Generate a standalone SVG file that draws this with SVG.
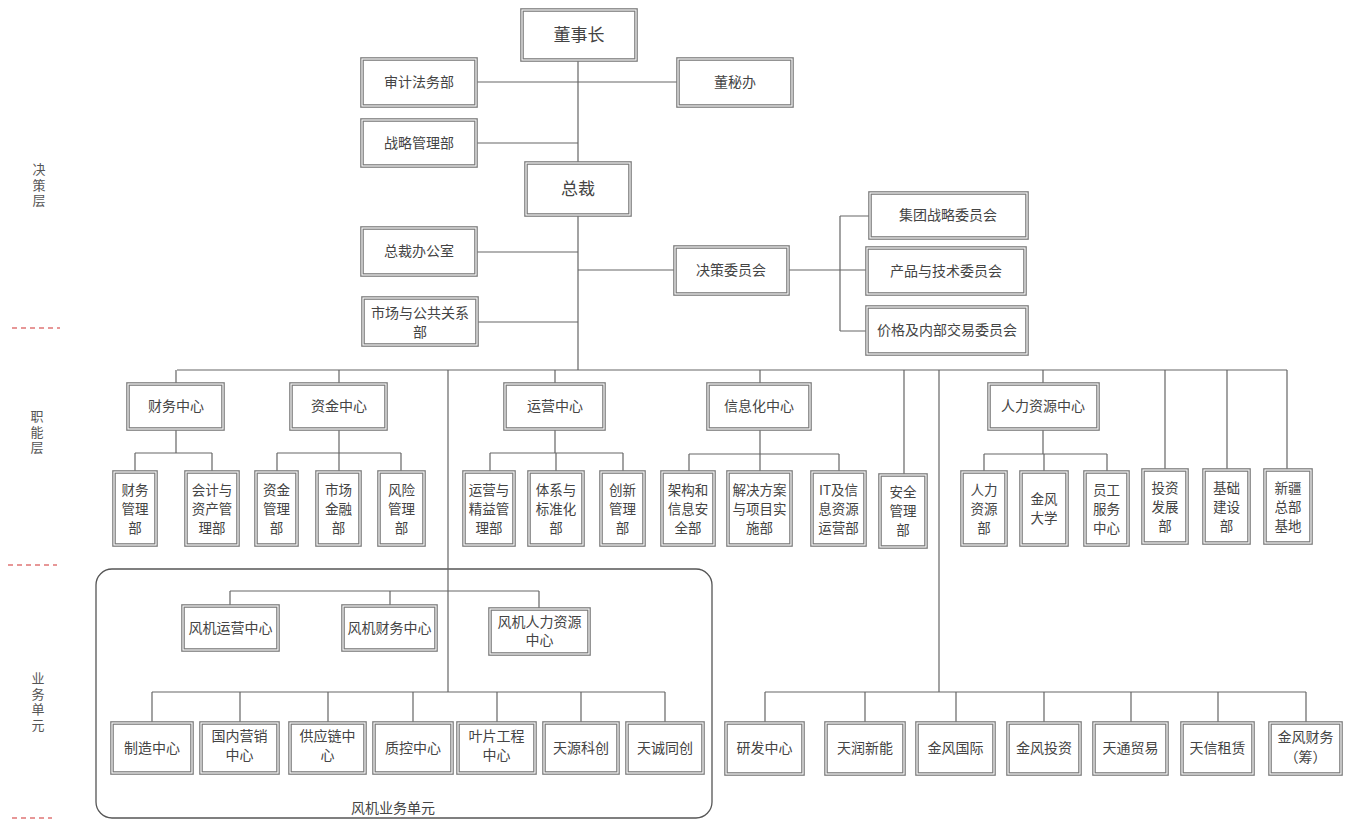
<svg xmlns="http://www.w3.org/2000/svg" width="1352" height="820" viewBox="0 0 1352 820">
<style>
text{font-family:"Noto Sans CJK SC","Noto Sans",sans-serif;fill:#444;font-size:14px;text-anchor:middle}
.big{font-size:17px}
.sm{font-size:13.5px}
.lay{font-size:13px;fill:#555;writing-mode:vertical-rl;text-anchor:start;letter-spacing:2.5px}
.b{fill:#fff;stroke:#7a7a7a;stroke-width:3.6}
.w{fill:none;stroke:#fff;stroke-width:1.1}
.c{fill:none;stroke:#666;stroke-width:1.2}
.dash{stroke:#e07575;stroke-width:1.3;stroke-dasharray:5 4}
.ur{fill:none;stroke:#555;stroke-width:1.3}
</style>
<rect width="1352" height="820" fill="#fff"/>
<g id="layers">
<text class="lay" x="39" y="163">决策层</text>
<text class="lay" x="37" y="410">职能层</text>
<text class="lay" x="38" y="672">业务单元</text>
<line class="dash" x1="12" y1="328" x2="60" y2="328"/>
<line class="dash" x1="8" y1="565" x2="57" y2="565"/>
<line class="dash" x1="12" y1="818" x2="52" y2="818"/>
</g>
<g id="unit-frame">
<rect class="ur" x="96" y="569" width="616" height="249" rx="16"/>
<text x="393" y="813">风机业务单元</text>
</g>
<g id="connectors" class="c">
<path d="M578 60V163M578 215V370"/>
<path d="M476 82H678M476 143H578M476 252H578M578 270H675M477 322H578"/>
<path d="M788 270H840M840 216V331M840 216H870M840 270H867M840 331H867"/>
<path d="M177 370H1287"/>
<path d="M176 370V384M339 370V384M555 370V384M760 370V384M1043 370V384M904 370V475M1165 370V470M1227 370V470M1287 370V470"/>
<path d="M448 370V692M939 370V692"/>
<path d="M176 429V453M135 453H212M135 453V472M212 453V472"/>
<path d="M339 429V453M277 453H401M277 453V472M339 453V472M401 453V472"/>
<path d="M555 429V453M490 453H623M490 453V472M556 453V472M623 453V472"/>
<path d="M760 429V454M689 454H839M689 454V472M760 454V472M839 454V472"/>
<path d="M1043 429V454M984 454H1107M984 454V472M1044 454V472M1107 454V472"/>
<path d="M230 591H539M230 591V606M390 591V606M539 591V609"/>
<path d="M152 692H665M152 692V723M240 692V723M328 692V723M413 692V723M497 692V723M581 692V723M665 692V723"/>
<path d="M765 692H1306M765 692V723M865 692V723M956 692V723M1044 692V723M1131 692V723M1218 692V723M1306 692V723"/>
</g>
<g id="n-dongshizhang"><rect class="b" x="522" y="10" width="114" height="50"/><rect class="w" x="522" y="10" width="114" height="50"/><text class="big" x="579" y="41">董事长</text></g>
<g id="n-shenji"><rect class="b" x="362" y="59" width="114" height="47"/><rect class="w" x="362" y="59" width="114" height="47"/><text x="419" y="87">审计法务部</text></g>
<g id="n-dongmi"><rect class="b" x="678" y="59" width="114" height="47"/><rect class="w" x="678" y="59" width="114" height="47"/><text x="735" y="87">董秘办</text></g>
<g id="n-zhanlue"><rect class="b" x="362" y="120" width="114" height="46"/><rect class="w" x="362" y="120" width="114" height="46"/><text x="419" y="148">战略管理部</text></g>
<g id="n-zongcai"><rect class="b" x="526" y="163" width="104" height="52"/><rect class="w" x="526" y="163" width="104" height="52"/><text class="big" x="578" y="195">总裁</text></g>
<g id="n-zongcaiban"><rect class="b" x="362" y="228" width="114" height="47"/><rect class="w" x="362" y="228" width="114" height="47"/><text x="419" y="256">总裁办公室</text></g>
<g id="n-shichang"><rect class="b" x="363" y="298" width="114" height="47"/><rect class="w" x="363" y="298" width="114" height="47"/><text x="420" y="318">市场与公共关系</text><text x="420" y="337">部</text></g>
<g id="n-juece"><rect class="b" x="675" y="247" width="113" height="47"/><rect class="w" x="675" y="247" width="113" height="47"/><text x="731" y="275">决策委员会</text></g>
<g id="n-jituan"><rect class="b" x="870" y="193" width="157" height="45"/><rect class="w" x="870" y="193" width="157" height="45"/><text x="948" y="220">集团战略委员会</text></g>
<g id="n-chanpin"><rect class="b" x="867" y="248" width="158" height="46"/><rect class="w" x="867" y="248" width="158" height="46"/><text x="946" y="276">产品与技术委员会</text></g>
<g id="n-jiage"><rect class="b" x="867" y="307" width="160" height="47"/><rect class="w" x="867" y="307" width="160" height="47"/><text x="947" y="335">价格及内部交易委员会</text></g>

<g id="n-caiwuzx"><rect class="b" x="128" y="384" width="95" height="45"/><rect class="w" x="128" y="384" width="95" height="45"/><text x="176" y="411">财务中心</text></g>
<g id="n-zijinzx"><rect class="b" x="291" y="384" width="95" height="45"/><rect class="w" x="291" y="384" width="95" height="45"/><text x="339" y="411">资金中心</text></g>
<g id="n-yunyingzx"><rect class="b" x="505" y="384" width="99" height="45"/><rect class="w" x="505" y="384" width="99" height="45"/><text x="555" y="411">运营中心</text></g>
<g id="n-xinxizx"><rect class="b" x="708" y="384" width="102" height="45"/><rect class="w" x="708" y="384" width="102" height="45"/><text x="759" y="411">信息化中心</text></g>
<g id="n-renlizx"><rect class="b" x="989" y="384" width="109" height="45"/><rect class="w" x="989" y="384" width="109" height="45"/><text x="1043" y="411">人力资源中心</text></g>

<g id="n-cwgl"><rect class="b" x="114" y="472" width="42" height="73"/><rect class="w" x="114" y="472" width="42" height="73"/><text class="sm" x="135" y="495">财务</text><text class="sm" x="135" y="514">管理</text><text class="sm" x="135" y="533">部</text></g>
<g id="n-kjzc"><rect class="b" x="186" y="472" width="52" height="73"/><rect class="w" x="186" y="472" width="52" height="73"/><text class="sm" x="212" y="495">会计与</text><text class="sm" x="212" y="514">资产管</text><text class="sm" x="212" y="533">理部</text></g>
<g id="n-zjgl"><rect class="b" x="256" y="472" width="41" height="73"/><rect class="w" x="256" y="472" width="41" height="73"/><text class="sm" x="276.5" y="495">资金</text><text class="sm" x="276.5" y="514">管理</text><text class="sm" x="276.5" y="533">部</text></g>
<g id="n-scjr"><rect class="b" x="317" y="472" width="43" height="73"/><rect class="w" x="317" y="472" width="43" height="73"/><text class="sm" x="338.5" y="495">市场</text><text class="sm" x="338.5" y="514">金融</text><text class="sm" x="338.5" y="533">部</text></g>
<g id="n-fxgl"><rect class="b" x="379" y="472" width="45" height="73"/><rect class="w" x="379" y="472" width="45" height="73"/><text class="sm" x="401.5" y="495">风险</text><text class="sm" x="401.5" y="514">管理</text><text class="sm" x="401.5" y="533">部</text></g>
<g id="n-yyjy"><rect class="b" x="464" y="472" width="50" height="73"/><rect class="w" x="464" y="472" width="50" height="73"/><text class="sm" x="489" y="495">运营与</text><text class="sm" x="489" y="514">精益管</text><text class="sm" x="489" y="533">理部</text></g>
<g id="n-txbz"><rect class="b" x="529" y="472" width="54" height="73"/><rect class="w" x="529" y="472" width="54" height="73"/><text class="sm" x="556" y="495">体系与</text><text class="sm" x="556" y="514">标准化</text><text class="sm" x="556" y="533">部</text></g>
<g id="n-cxgl"><rect class="b" x="601" y="472" width="43" height="73"/><rect class="w" x="601" y="472" width="43" height="73"/><text class="sm" x="622.5" y="495">创新</text><text class="sm" x="622.5" y="514">管理</text><text class="sm" x="622.5" y="533">部</text></g>
<g id="n-jgxx"><rect class="b" x="662" y="472" width="52" height="73"/><rect class="w" x="662" y="472" width="52" height="73"/><text class="sm" x="688" y="495">架构和</text><text class="sm" x="688" y="514">信息安</text><text class="sm" x="688" y="533">全部</text></g>
<g id="n-jjfa"><rect class="b" x="728" y="472" width="63" height="73"/><rect class="w" x="728" y="472" width="63" height="73"/><text class="sm" x="759.5" y="495">解决方案</text><text class="sm" x="759.5" y="514">与项目实</text><text class="sm" x="759.5" y="533">施部</text></g>
<g id="n-itxx"><rect class="b" x="812" y="472" width="53" height="73"/><rect class="w" x="812" y="472" width="53" height="73"/><text class="sm" x="838.5" y="495">IT及信</text><text class="sm" x="838.5" y="514">息资源</text><text class="sm" x="838.5" y="533">运营部</text></g>
<g id="n-aqgl"><rect class="b" x="880" y="475" width="46" height="72"/><rect class="w" x="880" y="475" width="46" height="72"/><text class="sm" x="903" y="497">安全</text><text class="sm" x="903" y="516">管理</text><text class="sm" x="903" y="535">部</text></g>
<g id="n-rlzy"><rect class="b" x="962" y="472" width="44" height="73"/><rect class="w" x="962" y="472" width="44" height="73"/><text class="sm" x="984" y="495">人力</text><text class="sm" x="984" y="514">资源</text><text class="sm" x="984" y="533">部</text></g>
<g id="n-jfdx"><rect class="b" x="1021" y="472" width="46" height="73"/><rect class="w" x="1021" y="472" width="46" height="73"/><text class="sm" x="1044" y="504">金风</text><text class="sm" x="1044" y="523">大学</text></g>
<g id="n-ygfw"><rect class="b" x="1085" y="472" width="43" height="73"/><rect class="w" x="1085" y="472" width="43" height="73"/><text class="sm" x="1106.5" y="495">员工</text><text class="sm" x="1106.5" y="514">服务</text><text class="sm" x="1106.5" y="533">中心</text></g>
<g id="n-tzfz"><rect class="b" x="1143" y="470" width="44" height="73"/><rect class="w" x="1143" y="470" width="44" height="73"/><text class="sm" x="1165" y="493">投资</text><text class="sm" x="1165" y="512">发展</text><text class="sm" x="1165" y="531">部</text></g>
<g id="n-jcjs"><rect class="b" x="1204" y="470" width="45" height="73"/><rect class="w" x="1204" y="470" width="45" height="73"/><text class="sm" x="1226.5" y="493">基础</text><text class="sm" x="1226.5" y="512">建设</text><text class="sm" x="1226.5" y="531">部</text></g>
<g id="n-xjzb"><rect class="b" x="1265" y="470" width="46" height="73"/><rect class="w" x="1265" y="470" width="46" height="73"/><text class="sm" x="1288" y="493">新疆</text><text class="sm" x="1288" y="512">总部</text><text class="sm" x="1288" y="531">基地</text></g>

<g id="n-fjyy"><rect class="b" x="183" y="606" width="95" height="44"/><rect class="w" x="183" y="606" width="95" height="44"/><text x="230.5" y="633">风机运营中心</text></g>
<g id="n-fjcw"><rect class="b" x="343" y="606" width="93" height="44"/><rect class="w" x="343" y="606" width="93" height="44"/><text x="389.5" y="633">风机财务中心</text></g>
<g id="n-fjrl"><rect class="b" x="490" y="609" width="99" height="45"/><rect class="w" x="490" y="609" width="99" height="45"/><text x="539.5" y="627">风机人力资源</text><text x="539.5" y="645">中心</text></g>

<g id="n-zhizao"><rect class="b" x="112" y="723" width="80" height="50"/><rect class="w" x="112" y="723" width="80" height="50"/><text x="152" y="753">制造中心</text></g>
<g id="n-guonei"><rect class="b" x="201" y="723" width="77" height="50"/><rect class="w" x="201" y="723" width="77" height="50"/><text x="239.5" y="741">国内营销</text><text x="239.5" y="760">中心</text></g>
<g id="n-gongying"><rect class="b" x="290" y="723" width="75" height="50"/><rect class="w" x="290" y="723" width="75" height="50"/><text x="327.5" y="741">供应链中</text><text x="327.5" y="760">心</text></g>
<g id="n-zhikong"><rect class="b" x="374" y="723" width="78" height="50"/><rect class="w" x="374" y="723" width="78" height="50"/><text x="413" y="753">质控中心</text></g>
<g id="n-yepian"><rect class="b" x="458" y="723" width="77" height="50"/><rect class="w" x="458" y="723" width="77" height="50"/><text x="496.5" y="741">叶片工程</text><text x="496.5" y="760">中心</text></g>
<g id="n-tianyuan"><rect class="b" x="544" y="723" width="74" height="50"/><rect class="w" x="544" y="723" width="74" height="50"/><text x="581" y="753">天源科创</text></g>
<g id="n-tiancheng"><rect class="b" x="627" y="723" width="76" height="50"/><rect class="w" x="627" y="723" width="76" height="50"/><text x="665" y="753">天诚同创</text></g>

<g id="n-yanfa"><rect class="b" x="726" y="723" width="77" height="51"/><rect class="w" x="726" y="723" width="77" height="51"/><text x="764.5" y="753">研发中心</text></g>
<g id="n-tianrun"><rect class="b" x="826" y="723" width="78" height="51"/><rect class="w" x="826" y="723" width="78" height="51"/><text x="865" y="753">天润新能</text></g>
<g id="n-jfgj"><rect class="b" x="917" y="723" width="77" height="51"/><rect class="w" x="917" y="723" width="77" height="51"/><text x="955.5" y="753">金风国际</text></g>
<g id="n-jftz"><rect class="b" x="1008" y="723" width="72" height="51"/><rect class="w" x="1008" y="723" width="72" height="51"/><text x="1044" y="753">金风投资</text></g>
<g id="n-tiantong"><rect class="b" x="1094" y="723" width="73" height="51"/><rect class="w" x="1094" y="723" width="73" height="51"/><text x="1130.5" y="753">天通贸易</text></g>
<g id="n-tianxin"><rect class="b" x="1182" y="723" width="71" height="51"/><rect class="w" x="1182" y="723" width="71" height="51"/><text x="1217.5" y="753">天信租赁</text></g>
<g id="n-jfcw"><rect class="b" x="1270" y="723" width="71" height="51"/><rect class="w" x="1270" y="723" width="71" height="51"/><text x="1305.5" y="742">金风财务</text><text x="1305.5" y="762">（筹）</text></g>
</svg>
